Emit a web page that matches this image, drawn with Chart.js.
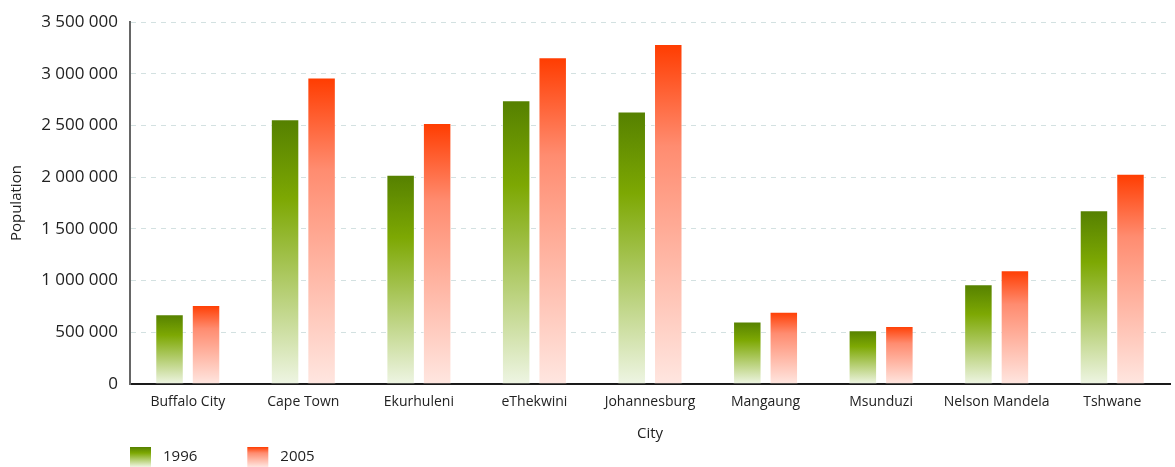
<!DOCTYPE html>
<html>
<head>
<meta charset="utf-8">
<script src="https://cdn.jsdelivr.net/npm/chart.js@4"></script>
<style>
  html, body { margin: 0; padding: 0; background: #fff; }
</style>
</head>
<body>
<canvas id="myChart" width="1175" height="467"></canvas>
<script>
// data
const cities = ['Buffalo City', 'Cape Town', 'Ekurhuleni', 'eThekwini', 'Johannesburg', 'Mangaung', 'Msunduzi', 'Nelson Mandela', 'Tshwane'];
const pop1996 = [675000, 2560000, 2025000, 2745000, 2635000, 605000, 520000, 965000, 1680000];
const pop2005 = [765000, 2965000, 2525000, 3160000, 3290000, 700000, 562000, 1100000, 2035000];
const seriesNames = ['1996', '2005'];
const yTickValues = [0, 500000, 1000000, 1500000, 2000000, 2500000, 3000000, 3500000];
const yTop = 3500000;

const greenStops = ['#558000', '#7da803', '#eef5e3'];
const redStops = ['#ff3c00', '#ff8c70', '#ffe6e0'];

const FONT = '"Open Sans", "Noto Sans", sans-serif';

function fmt(v) {
    return String(v).replace(/\B(?=(\d{3})+(?!\d))/g, ' ');
}

// gradient per bar, from its top down to the zero line
function barGradient(stops) {
    return function (context) {
        const chart = context.chart;
        if (!chart.chartArea || !context.parsed || context.parsed.y === undefined) {
            return stops[0];
        }
        const y = chart.scales.y;
        const top = y.getPixelForValue(context.parsed.y);
        const base = y.getPixelForValue(0);
        const g = chart.ctx.createLinearGradient(0, top, 0, base);
        g.addColorStop(0, stops[0]);
        g.addColorStop(0.3, stops[1]);
        g.addColorStop(1, stops[2]);
        return g;
    };
}

// legend under the axis, gradient boxes like the bars
const gradientLegend = {
    id: 'gradientLegend',
    afterDraw(chart) {
        const ctx = chart.ctx;
        const boxW = 21, boxH = 20;
        let x = chart.chartArea.left;
        const y = chart.height - boxH;
        ctx.save();
        ctx.font = '15px ' + FONT;
        ctx.textBaseline = 'middle';
        ctx.textAlign = 'left';
        chart.data.datasets.forEach(function (ds, i) {
            const stops = i === 0 ? greenStops : redStops;
            const g = ctx.createLinearGradient(0, y, 0, y + boxH);
            g.addColorStop(0, stops[0]);
            g.addColorStop(0.3, stops[1]);
            g.addColorStop(1, stops[2]);
            ctx.fillStyle = g;
            ctx.fillRect(x, y, boxW, boxH);
            ctx.fillStyle = '#222';
            ctx.fillText(ds.label, x + boxW + 12, y + boxH / 2);
            x += boxW + 12 + ctx.measureText(ds.label).width + 50;
        });
        ctx.restore();
    }
};

const ctx = document.getElementById('myChart').getContext('2d');
const myChart = new Chart(ctx, {
    type: 'bar',
    data: {
        labels: cities,
        datasets: [{
            label: seriesNames[0],
            data: pop1996,
            backgroundColor: barGradient(greenStops),
            borderColor: 'rgba(255,255,255,0.45)',
            borderWidth: 1,
            borderSkipped: 'bottom'
        }, {
            label: seriesNames[1],
            data: pop2005,
            backgroundColor: barGradient(redStops),
            borderColor: 'rgba(255,255,255,0.45)',
            borderWidth: 1,
            borderSkipped: 'bottom'
        }]
    },
    options: {
        responsive: false,
        animation: false,
        devicePixelRatio: 1,
        layout: { padding: { top: 0, right: 5, bottom: 21, left: 0 } },
        categoryPercentage: 0.632,
        barPercentage: 0.78,
        plugins: {
            legend: { display: false },
            tooltip: { enabled: false }
        },
        scales: {
            x: {
                grid: { display: false, drawTicks: false },
                border: { color: '#1a1a1a', width: 2 },
                ticks: { color: '#222', font: { family: FONT, size: 14 }, padding: 10, maxRotation: 0 },
                title: { display: true, text: 'City', color: '#222', font: { family: FONT, size: 15 }, padding: { top: 0, bottom: 3 } },
                afterFit: function (scale) { scale.height = 62; }
            },
            y: {
                min: 0,
                max: yTop,
                ticks: { callback: fmt, color: '#222', font: { family: FONT, size: 17 }, padding: 12, autoSkip: false },
                afterBuildTicks: function (scale) {
                    scale.ticks = yTickValues.map(v => ({ value: v }));
                },
                grid: { color: '#d3e1e1', lineWidth: 1, drawTicks: false },
                border: { color: '#666', width: 2, dash: [5, 5] },
                title: { display: true, text: 'Population', color: '#222', font: { family: FONT, size: 15 }, padding: { top: 8, bottom: 0 } },
                afterFit: function (scale) { scale.width = 130; }
            }
        }
    },
    plugins: [gradientLegend]
});
</script>
</body>
</html>
